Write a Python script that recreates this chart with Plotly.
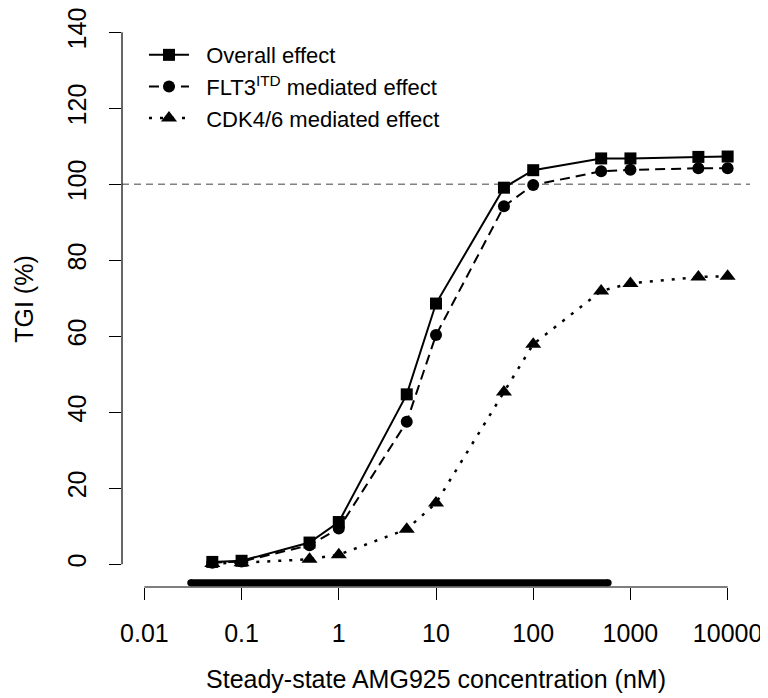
import plotly.graph_objects as go

conc = [0.05, 0.1, 0.5, 1, 5, 10, 50, 100, 500, 1000, 5000, 10000]
overall = [0.6, 0.9, 5.7, 11.1, 44.7, 68.6, 99.1, 103.7, 106.8, 106.8, 107.2, 107.3]
flt3 = [0.4, 0.7, 5.0, 9.4, 37.5, 60.3, 94.2, 99.8, 103.4, 103.8, 104.2, 104.2]
cdk = [0.2, 0.4, 1.3, 2.5, 9.2, 16.1, 45.3, 57.9, 71.9, 73.9, 75.6, 75.8]

range_conc = [0.03, 590]
range_level = [-4.9, -4.9]

x_ticks = [0.01, 0.1, 1, 10, 100, 1000, 10000]
x_ticktext = ["0.01", "0.1", "1", "10", "100", "1000", "10000"]
y_ticks = [0, 20, 40, 60, 80, 100, 120, 140]
ref_level = 100

FONT = "Liberation Sans, Arial, sans-serif"
PAD = "\u00a0\u00a0"

fig = go.Figure()

fig.add_trace(go.Scatter(
    x=range_conc, y=range_level, mode="lines+markers",
    line=dict(color="black", width=7),
    marker=dict(symbol="circle", size=7, color="black"),
    showlegend=False, hoverinfo="skip"))

fig.add_trace(go.Scatter(
    x=conc, y=overall, mode="lines+markers", name=PAD + "Overall effect",
    line=dict(color="black", width=2, dash="solid"),
    marker=dict(symbol="square", size=12, color="black")))

fig.add_trace(go.Scatter(
    x=conc, y=flt3, mode="lines+markers", name=PAD + "FLT3<sup>ITD</sup> mediated effect",
    line=dict(color="black", width=2, dash="10px,6px"),
    marker=dict(symbol="circle", size=12, color="black")))

fig.add_trace(go.Scatter(
    x=conc, y=cdk, mode="lines+markers", name=PAD + "CDK4/6 mediated effect",
    line=dict(color="black", width=2.5, dash="3px,8px"),
    marker=dict(symbol="triangle-up", size=14, color="black")))

shapes = [
    dict(type="line", xref="paper", yref="y", x0=0, x1=1, y0=ref_level, y1=ref_level,
         line=dict(color="#808080", width=1.5, dash="7px,5px"), layer="below"),
    dict(type="line", xref="x", yref="paper", x0=x_ticks[0], x1=x_ticks[-1], y0=0, y1=0,
         line=dict(color="black", width=1.2)),
    dict(type="line", xref="paper", yref="y", x0=0, x1=0, y0=y_ticks[0], y1=y_ticks[-1],
         line=dict(color="black", width=1.2)),
]

fig.update_layout(
    width=760, height=690,
    margin=dict(l=114, r=18, t=3, b=111),
    paper_bgcolor="white", plot_bgcolor="white",
    font=dict(family=FONT, color="black"),
    shapes=shapes,
    showlegend=True,
    legend=dict(x=0.035, y=0.96, xanchor="left", yanchor="top",
                bgcolor="rgba(0,0,0,0)", font=dict(size=22, family=FONT),
                tracegroupgap=0, itemwidth=40),
    xaxis=dict(type="log", range=[-2.23, 4.23], tickmode="array",
               tickvals=x_ticks, ticktext=x_ticktext, automargin=False,
               ticks="outside", ticklen=12, tickwidth=1.2, tickcolor="black",
               showline=False, showgrid=False, zeroline=False,
               tickfont=dict(size=25, family=FONT),
               ticklabelstandoff=12, ticklabeloverflow="allow",
               title=dict(text="Steady-state AMG925 concentration (nM)",
                          font=dict(size=25, family=FONT), standoff=24)),
    yaxis=dict(range=[-6, 145.6], tickmode="array", tickvals=y_ticks, automargin=False,
               ticks="outside", ticklen=12, tickwidth=1.2, tickcolor="black",
               showline=False, showgrid=False, zeroline=False,
               tickangle=-90,
               tickfont=dict(size=25, family=FONT),
               ticklabelstandoff=13, ticklabeloverflow="allow",
               title=dict(text="TGI (%)", font=dict(size=25, family=FONT), standoff=22)),
)

fig.write_html("out.html")
